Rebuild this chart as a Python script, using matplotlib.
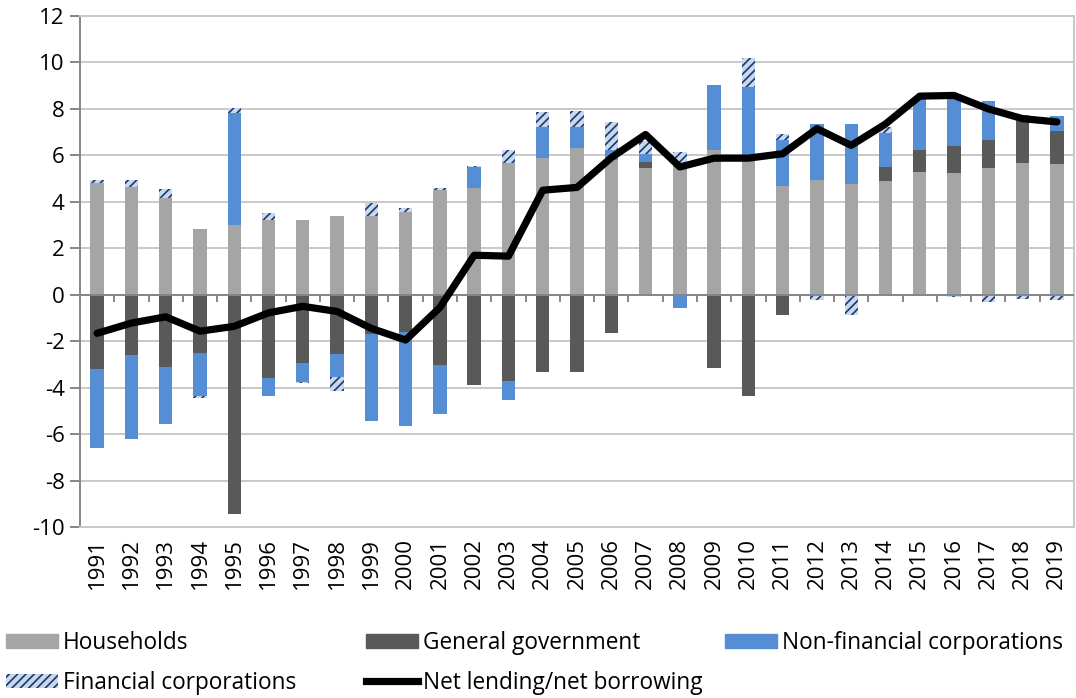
import numpy as np
import matplotlib
matplotlib.use("Agg")
import matplotlib.pyplot as plt
from matplotlib.patches import Patch
from matplotlib.lines import Line2D

plt.rcParams['font.family'] = ['Open Sans', 'DejaVu Sans']
plt.rcParams['hatch.linewidth'] = 1.2
plt.rcParams['axes.unicode_minus'] = False

years = [str(y) for y in range(1991, 2020)]

households = [4.83, 4.65, 4.15, 2.84, 3.02, 3.20, 3.20, 3.37, 3.37, 3.55,
              4.50, 4.60, 5.66, 5.90, 6.33, 5.80, 5.47, 5.60, 6.21, 5.80,
              4.69, 4.96, 4.75, 4.90, 5.27, 5.24, 5.47, 5.67, 5.63]
general_gov = [-3.19, -2.59, -3.11, -2.50, -9.44, -3.58, -2.93, -2.55, -1.71, -1.61,
               -3.02, -3.88, -3.72, -3.34, -3.32, -1.66, 0.24, 0.00, -3.14, -4.38,
               -0.89, 0.00, 0.00, 0.58, 0.95, 1.16, 1.21, 1.82, 1.44]
non_fin_corp = [-3.42, -3.63, -2.46, -1.88, 4.79, -0.76, -0.83, -0.99, -3.71, -4.06,
                -2.11, 0.88, -0.81, 1.30, 0.89, 0.42, 0.37, -0.58, 2.82, 3.15,
                1.96, 2.40, 2.61, 1.47, 2.30, 2.23, 1.68, 0.23, 0.64]
fin_corp = [0.10, 0.30, 0.41, -0.05, 0.24, 0.31, -0.04, -0.61, 0.58, 0.18,
            0.10, 0.07, 0.56, 0.65, 0.71, 1.23, 0.55, 0.55, 0.00, 1.26,
            0.27, -0.24, -0.89, 0.27, 0.00, -0.08, -0.30, -0.17, -0.24]
net_lending = [-1.66, -1.22, -0.95, -1.57, -1.36, -0.78, -0.50, -0.72, -1.45, -1.95,
               -0.55, 1.70, 1.66, 4.50, 4.62, 5.90, 6.90, 5.50, 5.88, 5.88,
               6.07, 7.15, 6.43, 7.35, 8.55, 8.58, 8.00, 7.58, 7.44]

series = [
    ("Households", households, dict(color="#A5A5A5")),
    ("General government", general_gov, dict(color="#595959")),
    ("Non-financial corporations", non_fin_corp, dict(color="#558ED5")),
    ("Financial corporations", fin_corp, dict(facecolor="#C6D9F1", edgecolor="#1F3864",
                                               hatch="////", linewidth=0)),
]

fig = plt.figure(figsize=(10.76, 6.98), dpi=100)
ax = fig.add_axes([80/1076, 1-527/698, 994/1076, 511/698])

x = np.arange(len(years))
pos_base = np.zeros(len(years))
neg_base = np.zeros(len(years))
width = 0.39
for name, vals, style in series:
    v = np.array(vals)
    bottoms = np.where(v >= 0, pos_base, neg_base)
    ax.bar(x, v, width, bottom=bottoms, zorder=2, **style)
    pos_base = pos_base + np.clip(v, 0, None)
    neg_base = neg_base + np.clip(v, None, 0)

ax.plot(x, net_lending, color="black", lw=5.2, zorder=4, solid_joinstyle="round",
        solid_capstyle="round")

ax.set_xlim(-0.5, len(years) - 0.5)
ax.set_ylim(-10, 12)
ax.set_yticks(np.arange(-10, 13, 2))
ax.yaxis.grid(True, color="#C9C9C9", lw=1.4, zorder=0)
ax.set_axisbelow(True)
ax.tick_params(axis="y", labelsize=16, length=7, width=1.4, color="#868686", pad=4)
ax.set_xticks(x)
ax.set_xticklabels(years, rotation=90, fontsize=16)
ax.tick_params(axis="x", length=0, pad=8)
for s in ["top", "right", "bottom"]:
    ax.spines[s].set_color("#C9C9C9")
    ax.spines[s].set_linewidth(1.4)
ax.spines["left"].set_color("#868686")
ax.spines["left"].set_linewidth(1.4)

ax.axhline(0, color="#868686", lw=1.4, zorder=3)
sec = ax.secondary_xaxis(0, transform=ax.transData)
sec.set_xticks(np.arange(-0.5, len(years), 1.0))
sec.tick_params(axis="x", direction="out", length=5, width=1.4, color="#868686",
                labelbottom=False)
sec.spines["bottom"].set_visible(False)

handles = [Patch(**s[2], label=s[0]) for s in series]
line_h = Line2D([], [], color="black", lw=5.2, label="Net lending/net borrowing")
cols = [[handles[0], handles[3]], [handles[1], line_h], [handles[2]]]
xs = [6/1076, 366/1076, 725/1076]
for hs, xp in zip(cols, xs):
    fig.legend(handles=hs, loc="upper left", bbox_to_anchor=(xp, 1-631/698),
               frameon=False, fontsize=16.3, handlelength=2.3, handleheight=0.57,
               handletextpad=0.22, borderpad=0, borderaxespad=0, labelspacing=0.7)

fig.savefig("out.png", dpi=100)
